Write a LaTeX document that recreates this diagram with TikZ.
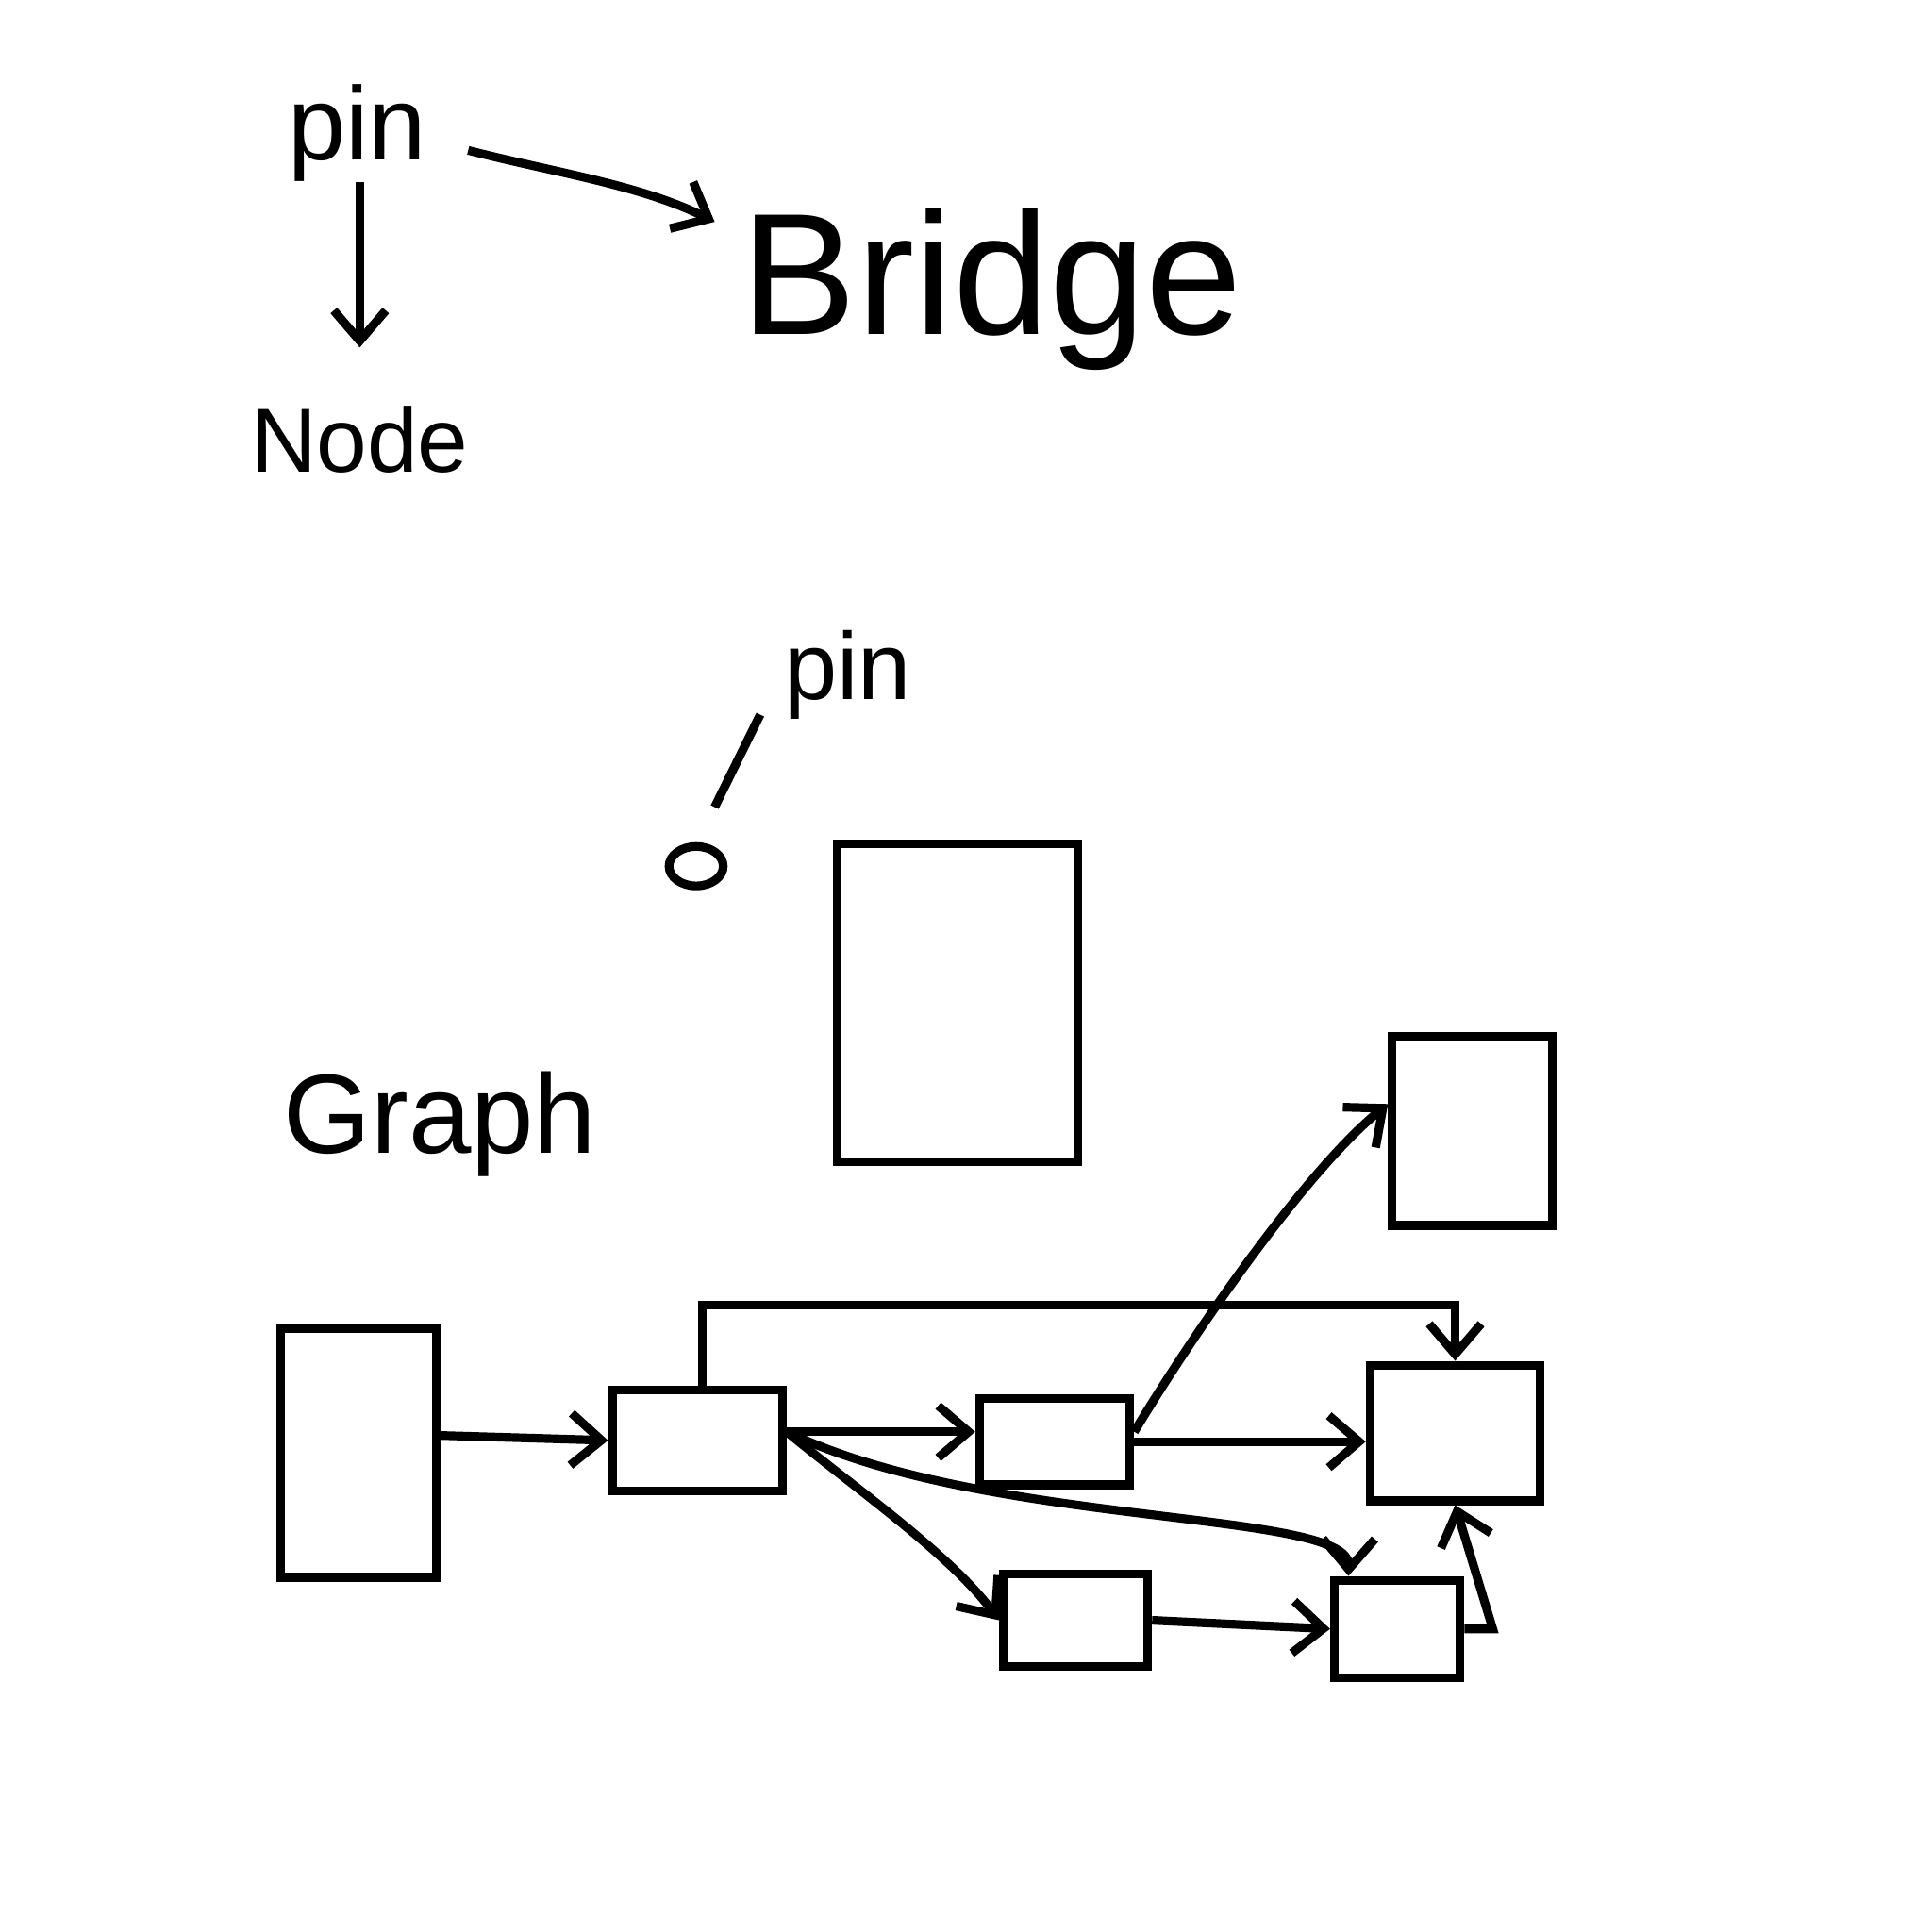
\documentclass[tikz,border=0pt]{standalone}
\usepackage{fontspec}
\setmainfont{Liberation Sans}
\usetikzlibrary{arrows.meta,calc,shapes.geometric}
\begin{document}
\begin{tikzpicture}[x=0.01cm,y=-0.01cm, line width=2pt,
  box/.style={draw, rectangle, inner sep=0pt},
  arr/.style={-{Straight Barb[length=7pt,width=12pt]}},
  lbl/.style={inner sep=0pt}]
\useasboundingbox (0,0) rectangle (1568,1568);
% top legend
\node[lbl, font=\fontsize{24}{28}\selectfont] (pinA) at (290,108) {pin};
\node[lbl, font=\fontsize{21}{25}\selectfont] (nodeA) at (292,357) {Node};
\node[lbl, font=\fontsize{40}{46}\selectfont] (bridge) at (805,235) {Bridge};
\draw[arr] (292,148) -- (292,282);
\coordinate (bs) at (380,122);
\coordinate (be) at (580,180);
\draw[arr] (bs) .. controls (450,140) and (520,150) .. (be);
% pin example
\node[lbl, font=\fontsize{22}{26}\selectfont] (pinB) at (688,548) {pin};
\node[draw, ellipse, minimum width=0.44cm, minimum height=0.32cm, inner sep=0pt] (dot) at (565,703) {};
\coordinate (pl1) at (617,580);
\coordinate (pl2) at (580,655);
\draw (pl1) -- (pl2);
\node[box, minimum width=1.95cm, minimum height=2.58cm] (big) at (777,814) {};
% graph
\node[lbl, font=\fontsize{26}{31}\selectfont] (graph) at (357,912) {Graph};
\node[box, minimum width=1.27cm, minimum height=2.02cm] (A) at (291,1179) {};
\node[box, minimum width=1.38cm, minimum height=0.82cm] (B) at (566,1169) {};
\node[box, minimum width=1.22cm, minimum height=0.70cm] (C) at (856,1170) {};
\node[box, minimum width=1.17cm, minimum height=0.75cm] (D) at (873,1315) {};
\node[box, minimum width=1.02cm, minimum height=0.79cm] (E) at (1134,1322) {};
\node[box, minimum width=1.38cm, minimum height=1.10cm] (F) at (1181,1163) {};
\node[box, minimum width=1.30cm, minimum height=1.53cm] (G) at (1195,918) {};
\draw[arr] (A.east |- 0,1165) -- (B.west);
\draw[arr] (B.east |- 0,1162) -- (C.west |- 0,1162);
\draw[arr] (B.east |- 0,1162) .. controls (690,1205) and (770,1260) .. (D.west);
\draw[arr] (B.east |- 0,1162) .. controls (800,1240) and (1095,1225) .. ($(E.north west)+(15,0)$);
\draw[arr] ([xshift=0.04cm]B.north) |- ($(F.north)+(0,-45)$) -- (F.north);
\draw[arr] (C.east) -- (F.west |- C.east);
\draw[arr] ($(C.east)+(0,-8)$) .. controls (970,1080) and (1060,950) .. ($(G.west)+(0,-22)$);
\draw[arr] (D.east) -- (E.west);
\draw[arr] (E.east) -- ++(23,0) -- (F.south);
\end{tikzpicture}
\end{document}
